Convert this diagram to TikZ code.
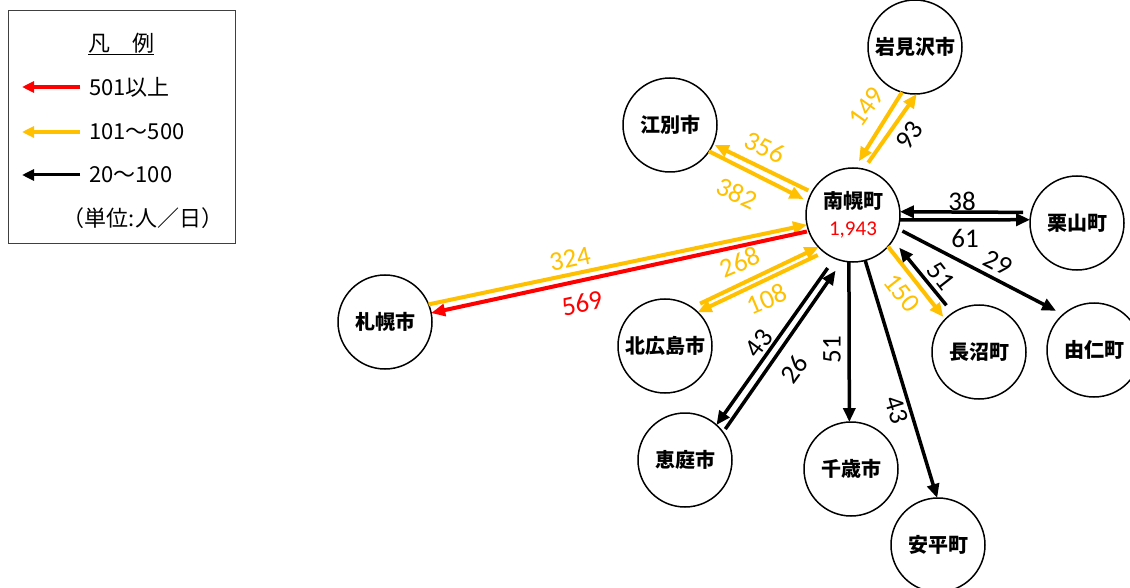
\documentclass[tikz,border=0pt]{standalone}
\usepackage{fontspec}
\newfontfamily\jp{Noto Sans CJK JP}
\newfontfamily\numf{Carlito}
\usetikzlibrary{arrows.meta}
\definecolor{ylw}{RGB}{255,192,0}
\definecolor{rd}{RGB}{255,0,0}
\tikzset{
  stn/.style={circle, draw, line width=1.5pt, minimum size=94pt, inner sep=0pt, outer sep=0pt,
    font=\jp\bfseries\fontsize{20}{27}\selectfont, align=center},
  tipstyle/.style={-{Triangle[length=14pt,width=12pt]}},
  blk/.style={tipstyle, draw=black, line width=3.5pt},
  yel/.style={tipstyle, draw=ylw, line width=4pt},
  red/.style={tipstyle, draw=rd, line width=4pt},
  lbl/.style={font=\numf\fontsize{27}{30}\selectfont, inner sep=0pt},
  leg/.style={font=\jp\fontsize{22}{24}\selectfont, inner sep=0pt}
}
\begin{document}
\begin{tikzpicture}[x=1pt,y=-1pt]
\useasboundingbox (0,0) rectangle (1130,588);

% legend
\node[draw=black!75, line width=1pt, minimum width=227pt, minimum height=233pt, anchor=north west, inner sep=0pt] (legend) at (8,10) {};
\node[leg] (ltitle) at (121,44) {\underline{凡\hspace{1em}例}};
\coordinate (lr1) at (80,87); \coordinate (lr2) at (22,87);
\coordinate (ly1) at (80,132); \coordinate (ly2) at (22,132);
\coordinate (lb1) at (80,175); \coordinate (lb2) at (22,175);
\draw[red, line width=3.5pt, -{Triangle[length=12pt,width=11pt]}] (lr1) -- (lr2);
\draw[yel, line width=3.5pt, -{Triangle[length=12pt,width=11pt]}] (ly1) -- (ly2);
\draw[blk, line width=3pt, -{Triangle[length=12pt,width=11pt]}] (lb1) -- (lb2);
\node[leg, anchor=west] (lt1) at (89,87) {501以上};
\node[leg, anchor=west] (lt2) at (89,132) {101～500};
\node[leg, anchor=west] (lt3) at (89,175) {20～100};
\node[leg] (lunit) at (143,218) {（単位:人／日）};

% stations
\node[stn] (N) at (853,215) {南幌町\\{\color{rd}\numf\mdseries\fontsize{21}{27}\selectfont 1,943}};
\node[stn] (I) at (915,47) {岩見沢市};
\node[stn] (E) at (670,125) {江別市};
\node[stn] (K) at (1077,223) {栗山町};
\node[stn] (Y) at (1094,350) {由仁町};
\node[stn] (Na) at (979,352) {長沼町};
\node[stn] (S) at (385,322) {札幌市};
\node[stn] (Ki) at (665,346) {北広島市};
\node[stn] (Ei) at (685,460) {恵庭市};
\node[stn] (C) at (851,469) {千歳市};
\node[stn] (A) at (938,545) {安平町};

% connectors
\draw[yel, shorten >=8pt] (I.254) -- (N.88);
\draw[yel, shorten <=8pt] (N.77) -- (I.272);
\draw[yel, shorten <=4pt, shorten >=2pt] (N.151) -- (E.336);
\draw[yel, shorten >=5pt] (E.326) -- (N.163);
\draw[yel] (S.22) -- (N.192);
\draw[red, shorten <=2pt] (N.200) -- (S.11);
\draw[yel, shorten <=9pt] (Ki.55) -- (N.223);
\draw[yel, shorten <=7pt] (N.232) -- (Ki.46);
\draw[blk, shorten <=12pt] (N.247) -- (Ei.48);
\draw[blk, shorten <=4pt, shorten >=12pt] (Ei.36) -- (N.257);
\draw[blk] (N.265) -- (C.92);
\draw[blk] (N.285) -- (A.91);
\draw[yel, shorten >=3pt] (N.318) -- (Na.136);
\draw[blk, shorten <=10pt, shorten >=10pt] (Na.124) -- (N.328);
\draw[blk, shorten <=5pt, shorten >=8pt] (N.343) -- (Y.131);
\draw[blk, shorten <=8pt] (K.167) -- (N.4);
\draw[blk] (N.354) -- (K.176);

% labels
\node[lbl, text=ylw, rotate=54.5] (l149) at (866,107) {149};
\node[lbl, rotate=54.5] (l93) at (909,135) {93};
\node[lbl, text=ylw, rotate=-26] (l356) at (765,147) {356};
\node[lbl, text=ylw, rotate=-26] (l382) at (737,193) {382};
\node[lbl, text=ylw, rotate=12] (l324) at (570,259) {324};
\node[lbl, text=rd, rotate=12] (l569) at (582,303) {569};
\node[lbl, text=ylw, rotate=23] (l268) at (740,262) {268};
\node[lbl, text=ylw, rotate=23] (l108) at (767,299) {108};
\node[lbl, rotate=54] (l43a) at (759,343) {43};
\node[lbl, rotate=54] (l26) at (794,369) {26};
\node[lbl, rotate=90] (l51a) at (832,350) {51};
\node[lbl, rotate=-73] (l43b) at (897,410) {43};
\node[lbl, text=ylw, rotate=-52] (l150) at (902,293) {150};
\node[lbl, rotate=-52] (l51b) at (941,276) {51};
\node[lbl, rotate=-27] (l29) at (998,263) {29};
\node[lbl] (l38) at (962,201) {38};
\node[lbl] (l61) at (965,238) {61};
\end{tikzpicture}
\end{document}
